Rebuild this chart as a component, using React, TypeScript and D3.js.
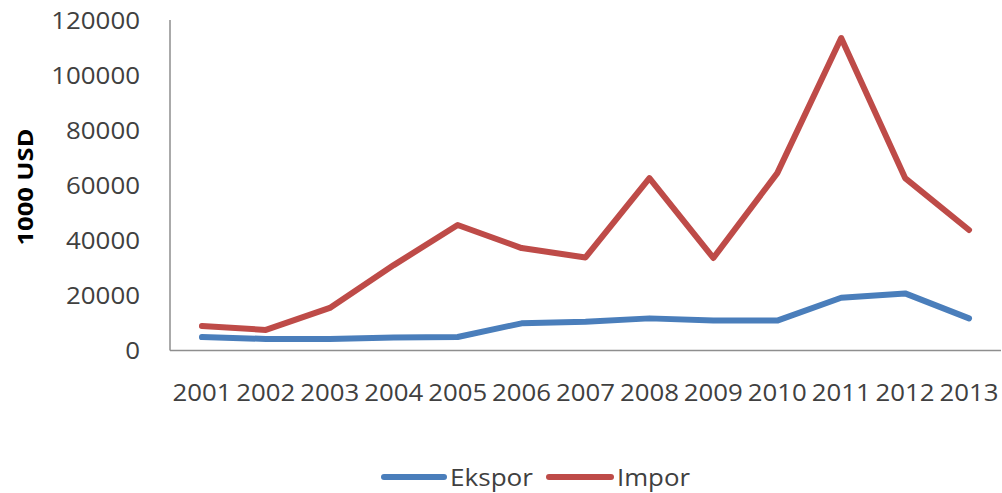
import React from "react";
import * as d3 from "d3";

// Trade values by year, in thousands of USD
const years = ["2001", "2002", "2003", "2004", "2005", "2006", "2007", "2008", "2009", "2010", "2011", "2012", "2013"];
const ekspor = [4900, 4200, 4200, 4700, 4900, 9900, 10500, 11700, 10900, 10900, 19200, 20800, 11700];
const impor = [8900, 7500, 15500, 31100, 45700, 37300, 33900, 62800, 33700, 64600, 113800, 62800, 43900];
const yTicks = [0, 20000, 40000, 60000, 80000, 100000, 120000];

const seriesList = [
  { name: "Ekspor", values: ekspor, color: "#4A7EBB" },
  { name: "Impor", values: impor, color: "#BE4B48" },
];

const W = 1002;
const H = 493;
const left = 170;
const right = 1001;
const top = 21;
const bottom = 350.5;
const FONT = "'Open Sans', 'Liberation Sans', sans-serif";
const DIGIT = 14.8;

export default function App() {
  const x = d3.scaleBand<string>().domain(years).range([left, right]).padding(0);
  const y = d3.scaleLinear().domain([0, 120000]).range([bottom, top]);
  const cx = (yr: string) => (x(yr) as number) + x.bandwidth() / 2;

  const line = (vals: number[]) =>
    d3
      .line<number>()
      .x((_, i) => cx(years[i]))
      .y((v) => y(v))(vals) as string;

  return (
    <svg
      width={W}
      height={H}
      style={{ position: "absolute", left: 0, top: 0, background: "#fff" }}
    >
      <rect x={0} y={0} width={W} height={H} fill="#fff" />
      {/* axes */}
      <line x1={left} x2={left} y1={top - 1} y2={bottom} stroke="#8E8E8E" strokeWidth={1.5} />
      <line x1={left} x2={right} y1={bottom} y2={bottom} stroke="#8E8E8E" strokeWidth={1.5} />

      {/* y tick labels */}
      {yTicks.map((t) => {
        const s = String(t);
        return (
          <text
            key={t}
            x={140}
            y={y(t)}
            dy="0.36em"
            textAnchor="end"
            fontFamily={FONT}
            fontSize={23}
            fill="#404040"
            textLength={s.length * DIGIT}
            lengthAdjust="spacingAndGlyphs"
          >
            {s}
          </text>
        );
      })}

      {/* x tick labels */}
      {years.map((yr) => (
        <text
          key={yr}
          x={cx(yr)}
          y={393}
          dy="0.36em"
          textAnchor="middle"
          fontFamily={FONT}
          fontSize={23}
          fill="#404040"
          textLength={59}
          lengthAdjust="spacingAndGlyphs"
        >
          {yr}
        </text>
      ))}

      {/* y axis title */}
      <text
        transform="translate(25,187) rotate(-90)"
        textAnchor="middle"
        dy="0.36em"
        fontFamily={FONT}
        fontWeight="bold"
        fontSize={22}
        fill="#000"
        textLength={117}
        lengthAdjust="spacingAndGlyphs"
      >
        1000 USD
      </text>

      {/* series lines */}
      {seriesList.map((s) => (
        <path
          key={s.name}
          d={line(s.values)}
          fill="none"
          stroke={s.color}
          strokeWidth={6}
          strokeLinejoin="round"
          strokeLinecap="round"
        />
      ))}

      {/* legend */}
      <g>
        <line x1={384} x2={444} y1={477} y2={477} stroke={seriesList[0].color} strokeWidth={6} strokeLinecap="round" />
        <text x={450} y={478} dy="0.36em" fontFamily={FONT} fontSize={23} fill="#404040" textLength={83} lengthAdjust="spacingAndGlyphs">
          {seriesList[0].name}
        </text>
        <line x1={549} x2={611} y1={477} y2={477} stroke={seriesList[1].color} strokeWidth={6} strokeLinecap="round" />
        <text x={617} y={478} dy="0.36em" fontFamily={FONT} fontSize={23} fill="#404040" textLength={73} lengthAdjust="spacingAndGlyphs">
          {seriesList[1].name}
        </text>
      </g>
    </svg>
  );
}
